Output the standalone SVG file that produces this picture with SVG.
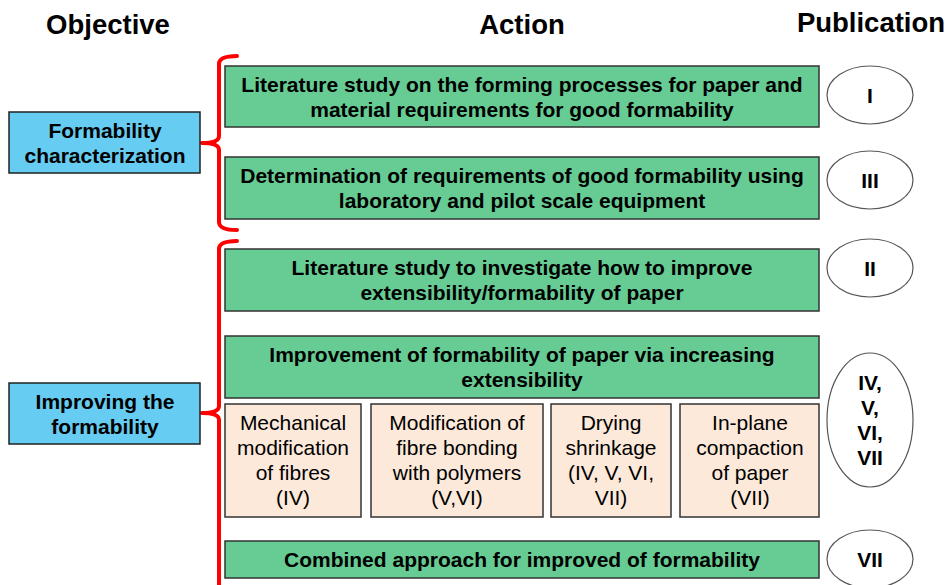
<svg xmlns="http://www.w3.org/2000/svg" width="948" height="585" viewBox="0 0 948 585">
<style>
text{font-family:"Liberation Sans",Arial,sans-serif;fill:#000;text-anchor:middle}
.h{font-size:27.5px;font-weight:bold}
.b{font-size:21px;font-weight:bold}
.r{font-size:21px}
.blue{fill:#66ccf2;stroke:#222;stroke-width:1.5}
.green{fill:#66cc94;stroke:#333;stroke-width:1.5}
.beige{fill:#fce9da;stroke:#333;stroke-width:1.5}
.ell{fill:#fff;stroke:#555;stroke-width:1.2}
.brace{fill:none;stroke:#ff0000;stroke-width:4;stroke-linejoin:round;stroke-linecap:round}
</style>
<rect width="948" height="585" fill="#fff"/>
<text class="h" x="108" y="34">Objective</text>
<text class="h" x="522" y="34">Action</text>
<text class="h" x="871" y="32">Publication</text>

<g id="connectors">
<path class="brace" d="M237,56 Q219,56 219,64 L219,136 Q219,143 202,143 Q219,143 219,150 L219,222 Q219,230 237,230"/>
<path class="brace" d="M237,241 Q219,241 219,249 L219,406 Q219,413 202,413 Q219,413 219,420 L219,590"/>
</g>

<g id="obj1"><rect class="blue" x="9" y="112" width="191" height="61"/>
<text class="b" x="105" y="138">Formability</text><text class="b" x="105" y="163">characterization</text></g>
<g id="obj2"><rect class="blue" x="9" y="383" width="191" height="61"/>
<text class="b" x="105" y="409">Improving the</text><text class="b" x="105" y="434">formability</text></g>

<g id="act1"><rect class="green" x="225" y="66" width="594" height="61"/>
<text class="b" x="522" y="92">Literature study on the forming processes for paper and</text>
<text class="b" x="522" y="117">material requirements for good formability</text></g>
<g id="act2"><rect class="green" x="225" y="157" width="594" height="62"/>
<text class="b" x="522" y="183">Determination of requirements of good formability using</text>
<text class="b" x="522" y="208">laboratory and pilot scale equipment</text></g>
<g id="act3"><rect class="green" x="225" y="249" width="594" height="62"/>
<text class="b" x="522" y="275">Literature study to investigate how to improve</text>
<text class="b" x="522" y="300">extensibility/formability of paper</text></g>
<g id="act4"><rect class="green" x="225" y="336" width="594" height="62"/>
<text class="b" x="522" y="362">Improvement of formability of paper via increasing</text>
<text class="b" x="522" y="387">extensibility</text></g>
<g id="sub1"><rect class="beige" x="225" y="404" width="136" height="113"/>
<text class="r" x="293" y="430">Mechanical</text><text class="r" x="293" y="455">modification</text><text class="r" x="293" y="480">of fibres</text><text class="r" x="293" y="505">(IV)</text></g>
<g id="sub2"><rect class="beige" x="371" y="404" width="172" height="113"/>
<text class="r" x="457" y="430">Modification of</text><text class="r" x="457" y="455">fibre bonding</text><text class="r" x="457" y="480">with polymers</text><text class="r" x="457" y="505">(V,VI)</text></g>
<g id="sub3"><rect class="beige" x="551" y="404" width="120" height="113"/>
<text class="r" x="611" y="430">Drying</text><text class="r" x="611" y="455">shrinkage</text><text class="r" x="611" y="480">(IV, V, VI,</text><text class="r" x="611" y="505">VII)</text></g>
<g id="sub4"><rect class="beige" x="680" y="404" width="139" height="113"/>
<text class="r" x="750" y="430">In-plane</text><text class="r" x="750" y="455">compaction</text><text class="r" x="750" y="480">of paper</text><text class="r" x="750" y="505">(VII)</text></g>
<g id="act5"><rect class="green" x="225" y="541" width="594" height="37"/>
<text class="b" x="522" y="567">Combined approach for improved of formability</text></g>

<g id="pub1"><ellipse class="ell" cx="870" cy="95" rx="43" ry="29"/><text class="b" x="870" y="103">I</text></g>
<g id="pub3"><ellipse class="ell" cx="870" cy="180" rx="43" ry="29"/><text class="b" x="870" y="188">III</text></g>
<g id="pub2"><ellipse class="ell" cx="870" cy="268" rx="43" ry="29"/><text class="b" x="870" y="276">II</text></g>
<g id="pub4"><ellipse class="ell" cx="870" cy="420" rx="43" ry="67"/>
<text class="b" x="870" y="390">IV,</text><text class="b" x="870" y="415">V,</text><text class="b" x="870" y="440">VI,</text><text class="b" x="870" y="465">VII</text></g>
<g id="pub7"><ellipse class="ell" cx="870" cy="559" rx="43" ry="29"/><text class="b" x="870" y="567">VII</text></g>
</svg>
